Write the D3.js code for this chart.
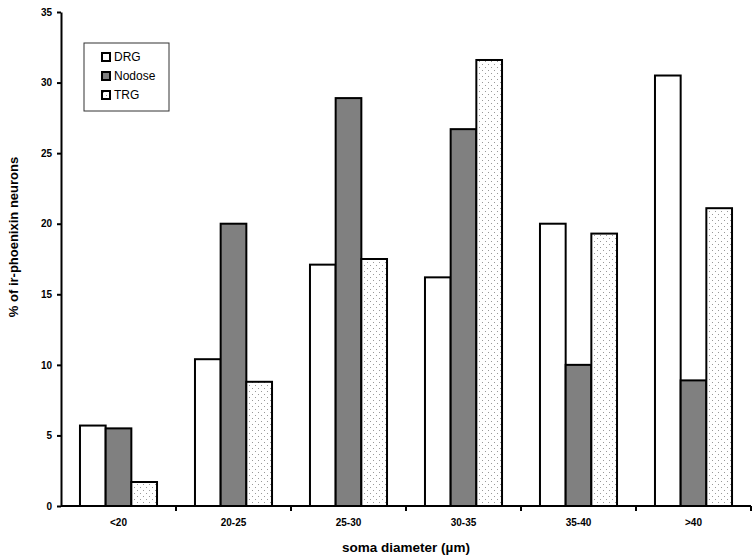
<!DOCTYPE html>
<html>
<head>
<meta charset="utf-8">
<script src="https://cdn.jsdelivr.net/npm/d3@7"></script>
<style>
  body { margin: 0; background: #fff; }
  svg { display: block; font-family: "Liberation Sans", Arial, sans-serif; }
</style>
</head>
<body>
<svg id="chart" width="756" height="559"></svg>
<script>
// Data
const categories = ['<20', '20-25', '25-30', '30-35', '35-40', '>40'];
const seriesNames = ['DRG', 'Nodose', 'TRG'];
const drg = [5.7, 10.4, 17.1, 16.2, 20.0, 30.5];
const nodose = [5.5, 20.0, 28.9, 26.7, 10.0, 8.9];
const trg = [1.7, 8.8, 17.5, 31.6, 19.3, 21.1];
const yTicks = [0, 5, 10, 15, 20, 25, 30, 35];

const values = [drg, nodose, trg];
const fills = ['#ffffff', '#808080', 'url(#dots)'];

const svg = d3.select('#chart');
const margin = { left: 61, right: 5, top: 12, bottom: 53 };
const width = 756, height = 559;

// dotted pattern for TRG
const defs = svg.append('defs');
const pat = defs.append('pattern')
  .attr('id', 'dots')
  .attr('patternUnits', 'userSpaceOnUse')
  .attr('width', 6).attr('height', 6);
pat.append('rect').attr('width', 6).attr('height', 6).attr('fill', '#fff');
pat.append('rect').attr('x', 1).attr('y', 1).attr('width', 1).attr('height', 1).attr('fill', '#999');
pat.append('rect').attr('x', 4).attr('y', 4).attr('width', 1).attr('height', 1).attr('fill', '#999');

const x0 = d3.scaleBand()
  .domain(categories)
  .range([margin.left, width - margin.right])
  .padding(0);

const groupPad = x0.bandwidth() * 0.165;
const x1 = d3.scaleBand()
  .domain(seriesNames)
  .range([groupPad, x0.bandwidth() - groupPad])
  .padding(0);

const y = d3.scaleLinear()
  .domain([0, 35])
  .range([height - margin.bottom, margin.top]);

// Bars
const groups = svg.append('g')
  .selectAll('g')
  .data(categories)
  .join('g')
  .attr('transform', d => `translate(${x0(d)},0)`);

groups.selectAll('rect')
  .data((c, i) => seriesNames.map((s, j) => ({ s, j, v: values[j][i] })))
  .join('rect')
  .attr('x', d => x1(d.s))
  .attr('width', x1.bandwidth())
  .attr('y', d => y(d.v))
  .attr('height', d => y(0) - y(d.v))
  .attr('fill', d => fills[d.j])
  .attr('stroke', '#000')
  .attr('stroke-width', 2);

// Y axis
const yAxis = svg.append('g')
  .attr('transform', `translate(${margin.left},0)`)
  .call(d3.axisLeft(y).tickValues(yTicks).tickSize(4).tickSizeOuter(0).tickPadding(5));
yAxis.select('.domain').attr('stroke-width', 2);
yAxis.selectAll('.tick line').attr('stroke-width', 2);
yAxis.selectAll('text').style('font-size', '10px').style('font-weight', 'bold').attr('fill', '#000');

// X axis: ticks at category boundaries
const xAxisG = svg.append('g')
  .attr('transform', `translate(0,${y(0)})`);
xAxisG.append('line')
  .attr('x1', margin.left).attr('x2', width - margin.right)
  .attr('stroke', '#000').attr('stroke-width', 2);
const bounds = categories.map(c => x0(c) + x0.bandwidth());
xAxisG.selectAll('line.tk')
  .data(bounds)
  .join('line')
  .attr('class', 'tk')
  .attr('x1', d => d).attr('x2', d => d)
  .attr('y1', 0).attr('y2', 5)
  .attr('stroke', '#000').attr('stroke-width', 2);
xAxisG.selectAll('text')
  .data(categories)
  .join('text')
  .attr('x', d => x0(d) + x0.bandwidth() / 2)
  .attr('y', 20)
  .attr('text-anchor', 'middle')
  .style('font-size', '10px')
  .style('font-weight', 'bold')
  .text(d => d);

// Axis titles
svg.append('text')
  .attr('x', (margin.left + width - margin.right) / 2)
  .attr('y', 552)
  .attr('text-anchor', 'middle')
  .style('font-size', '13.5px')
  .style('font-weight', 'bold')
  .text('soma diameter (µm)');

svg.append('text')
  .attr('transform', 'translate(18,237) rotate(-90)')
  .attr('text-anchor', 'middle')
  .style('font-size', '13px')
  .style('font-weight', 'bold')
  .text('% of ir-phoenixin neurons');

// Legend
const legend = svg.append('g').attr('transform', 'translate(84,43)');
legend.append('rect')
  .attr('width', 85).attr('height', 68)
  .attr('fill', '#fff').attr('stroke', '#333').attr('stroke-width', 1);
const items = legend.selectAll('g.item')
  .data(seriesNames)
  .join('g')
  .attr('class', 'item')
  .attr('transform', (d, i) => `translate(18,${10 + i * 19})`);
items.append('rect')
  .attr('width', 8).attr('height', 8)
  .attr('fill', (d, i) => fills[i])
  .attr('stroke', '#000').attr('stroke-width', 2);
items.append('text')
  .attr('x', 12).attr('y', 8)
  .style('font-size', '12px')
  .text(d => d);
</script>
</body>
</html>
